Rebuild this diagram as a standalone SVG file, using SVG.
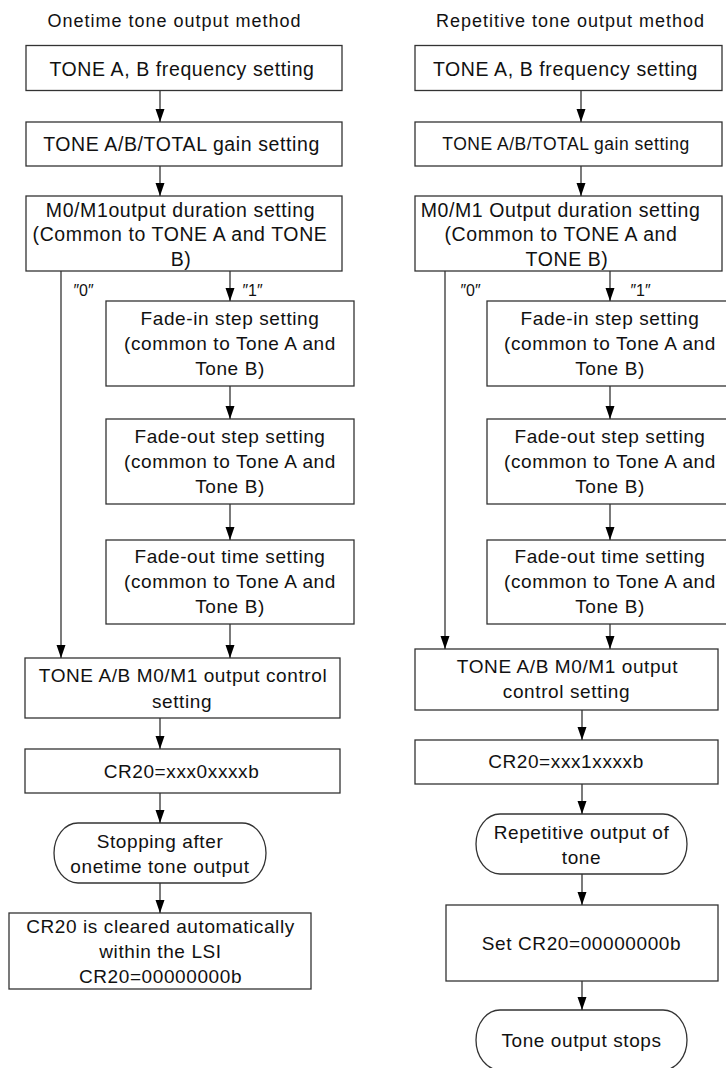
<svg xmlns="http://www.w3.org/2000/svg" width="726" height="1068" viewBox="0 0 726 1068">
<style>
rect.b{fill:#fff;stroke:#333;stroke-width:1.3}
text{font-family:"Liberation Sans",Arial,sans-serif;fill:#111;text-anchor:middle}
.t{font-size:19px;letter-spacing:0.6px}
.tb{font-size:19.5px;letter-spacing:0.6px}
.ts{font-size:17.5px;letter-spacing:0.5px}
.ti{font-size:18px;letter-spacing:1px}
.lb{font-family:"Liberation Sans","DejaVu Sans",sans-serif;font-size:16px}
.c line{stroke:#333;stroke-width:1.3;marker-end:url(#ah)}
</style>
<defs>
<marker id="ah" markerUnits="userSpaceOnUse" markerWidth="13" markerHeight="10" refX="13" refY="4.5" orient="auto">
<path d="M0,0 L13,4.5 L0,9 z" fill="#000"/>
</marker>
</defs>
<rect width="726" height="1068" fill="#fff"/>
<g id="titles">
<text class="ti" x="174.5" y="27">Onetime tone output method</text>
<text class="ti" x="570.5" y="27">Repetitive tone output method</text>
</g>
<g id="L1"><rect class="b" x="26" y="45.5" width="316" height="45"/><text class="tb" x="182" y="75.5">TONE A, B frequency setting</text></g>
<g id="L2"><rect class="b" x="26" y="122" width="316" height="44"/><text class="tb" x="181.5" y="151">TONE A/B/TOTAL gain setting</text></g>
<g id="L3"><rect class="b" x="26" y="196" width="316" height="75"/><text class="tb" x="180.5" y="216.5">M0/M1output duration setting</text><text class="tb" x="180" y="241">(Common to TONE A and TONE</text><text class="tb" x="181" y="265.5">B)</text></g>
<g id="L4"><rect class="b" x="106" y="301" width="248" height="85"/><text class="t" x="230" y="324.5">Fade-in step setting</text><text class="t" x="230" y="349.5">(common to Tone A and</text><text class="t" x="230" y="374.5">Tone B)</text></g>
<g id="L5"><rect class="b" x="106" y="419" width="248" height="85"/><text class="t" x="230" y="443">Fade-out step setting</text><text class="t" x="230" y="468">(common to Tone A and</text><text class="t" x="230" y="493">Tone B)</text></g>
<g id="L6"><rect class="b" x="106" y="540" width="248" height="84"/><text class="t" x="230" y="563">Fade-out time setting</text><text class="t" x="230" y="588">(common to Tone A and</text><text class="t" x="230" y="613">Tone B)</text></g>
<g id="L7"><rect class="b" x="25" y="658" width="315" height="60"/><text class="t" x="183" y="682">TONE A/B M0/M1 output control</text><text class="t" x="182" y="708">setting</text></g>
<g id="L8"><rect class="b" x="25" y="749" width="315" height="44"/><text class="t" x="181.5" y="778">CR20=xxx0xxxxb</text></g>
<g id="L9"><rect class="b" x="54" y="823" width="212" height="60" rx="24" ry="30"/><text class="t" x="160" y="848">Stopping after</text><text class="t" x="160" y="873">onetime tone output</text></g>
<g id="L10"><rect class="b" x="9" y="913" width="302" height="76"/><text class="t" x="160.5" y="933">CR20 is cleared automatically</text><text class="t" x="160.5" y="958">within the LSI</text><text class="t" x="160.5" y="983">CR20=00000000b</text></g>

<g id="R1"><rect class="b" x="415" y="45.5" width="307" height="45"/><text class="tb" x="565.5" y="75.5">TONE A, B frequency setting</text></g>
<g id="R2"><rect class="b" x="415" y="122" width="307" height="44"/><text class="ts" x="566" y="150">TONE A/B/TOTAL gain setting</text></g>
<g id="R3"><rect class="b" x="415" y="196" width="307" height="75"/><text class="tb" x="560.5" y="216.5">M0/M1 Output duration setting</text><text class="tb" x="561" y="241">(Common to TONE A and</text><text class="tb" x="567" y="265.5">TONE B)</text></g>
<g id="R4"><rect class="b" x="487" y="301" width="248" height="85"/><text class="t" x="610" y="324.5">Fade-in step setting</text><text class="t" x="610" y="349.5">(common to Tone A and</text><text class="t" x="610" y="374.5">Tone B)</text></g>
<g id="R5"><rect class="b" x="487" y="419" width="248" height="85"/><text class="t" x="610" y="443">Fade-out step setting</text><text class="t" x="610" y="468">(common to Tone A and</text><text class="t" x="610" y="493">Tone B)</text></g>
<g id="R6"><rect class="b" x="487" y="540" width="248" height="84"/><text class="t" x="610" y="563">Fade-out time setting</text><text class="t" x="610" y="588">(common to Tone A and</text><text class="t" x="610" y="613">Tone B)</text></g>
<g id="R7"><rect class="b" x="415" y="649" width="303" height="61"/><text class="t" x="567.5" y="673">TONE A/B M0/M1 output</text><text class="t" x="566.5" y="698">control setting</text></g>
<g id="R8"><rect class="b" x="415" y="740" width="303" height="44"/><text class="t" x="566" y="768">CR20=xxx1xxxxb</text></g>
<g id="R9"><rect class="b" x="476" y="814" width="211" height="60" rx="24" ry="30"/><text class="t" x="581.5" y="839">Repetitive output of</text><text class="t" x="581.5" y="864">tone</text></g>
<g id="R10"><rect class="b" x="446" y="905" width="272" height="76"/><text class="t" x="581.5" y="950">Set CR20=00000000b</text></g>
<g id="R11"><rect class="b" x="476" y="1010" width="211" height="60" rx="24" ry="30"/><text class="t" x="581.5" y="1047">Tone output stops</text></g>

<g id="connectors" class="c">
<line x1="160" y1="90.5" x2="160" y2="122"/>
<line x1="160" y1="166" x2="160" y2="196"/>
<line x1="61" y1="271" x2="61" y2="658"/>
<line x1="230" y1="271" x2="230" y2="301"/>
<line x1="230" y1="386" x2="230" y2="419"/>
<line x1="230" y1="504" x2="230" y2="540"/>
<line x1="230" y1="624" x2="230" y2="658"/>
<line x1="160" y1="718" x2="160" y2="749"/>
<line x1="160" y1="793" x2="160" y2="823"/>
<line x1="160" y1="883" x2="160" y2="913"/>
<line x1="581" y1="90.5" x2="581" y2="122"/>
<line x1="581" y1="166" x2="581" y2="196"/>
<line x1="445" y1="271" x2="445" y2="649"/>
<line x1="610" y1="271" x2="610" y2="301"/>
<line x1="610" y1="386" x2="610" y2="419"/>
<line x1="610" y1="504" x2="610" y2="540"/>
<line x1="610" y1="624" x2="610" y2="649"/>
<line x1="582" y1="710" x2="582" y2="740"/>
<line x1="582" y1="784" x2="582" y2="814"/>
<line x1="582" y1="874" x2="582" y2="905"/>
<line x1="582" y1="981" x2="582" y2="1010"/>
</g>
<g id="labels">
<text class="lb" x="83.5" y="296">″0″</text>
<text class="lb" x="252.5" y="296">″1″</text>
<text class="lb" x="470.5" y="296">″0″</text>
<text class="lb" x="640.5" y="296">″1″</text>
</g>
</svg>
